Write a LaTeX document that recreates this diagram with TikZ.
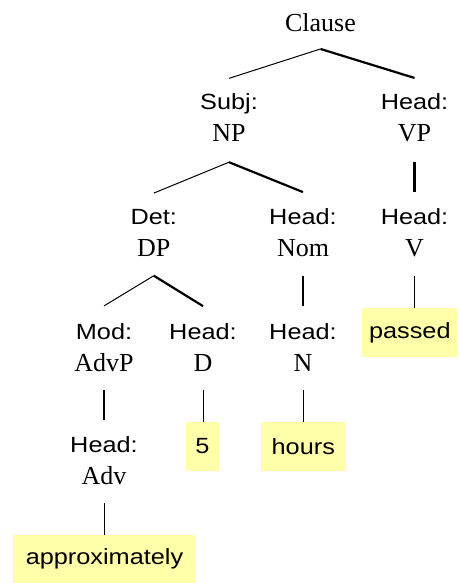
\documentclass[tikz,border=0pt]{standalone}
\usepackage{fontspec}
\usepackage{graphicx}
\setmainfont{Liberation Serif}
\newfontfamily\sansf{Liberation Sans}
\definecolor{boxyellow}{RGB}{255,255,170}
\newcommand\fnl[1]{{\sansf\fontsize{22}{32}\selectfont\scalebox{1.15}[1]{#1}}}
\newcommand\catl[1]{{\rmfamily\fontsize{26}{32}\selectfont #1}}
\tikzset{
  lab/.style={align=center, inner sep=0pt, anchor=south, font=\fontsize{22}{32}\selectfont},
  catnode/.style={inner sep=0pt, font=\rmfamily\fontsize{26}{32}\selectfont},
  wordbox/.style={fill=boxyellow, inner sep=0pt, minimum height=49pt},
  thinl/.style={line width=1pt},
  thickl/.style={line width=2.2pt}
}
\begin{document}
\begin{tikzpicture}[x=1pt,y=-1pt]
\useasboundingbox (0,0) rectangle (458,583);
% nodes
\node[catnode, anchor=base] (clause) at (320.5,31.5) {Clause};
\node[lab] (np) at (229,141.7) {\fnl{Subj:}\\\catl{NP}};
\node[lab] (vp) at (414.5,141.7) {\fnl{Head:}\\\catl{VP}};
\node[lab] (dp) at (153.8,256.7) {\fnl{Det:}\\\catl{DP}};
\node[lab] (nom) at (303,256.7) {\fnl{Head:}\\\catl{Nom}};
\node[lab] (v) at (414.5,256.7) {\fnl{Head:}\\\catl{V}};
\node[lab] (advp) at (104,371.5) {\fnl{Mod:}\\\catl{AdvP}};
\node[lab] (d) at (203,371.5) {\fnl{Head:}\\\catl{D}};
\node[lab] (n) at (303,371.5) {\fnl{Head:}\\\catl{N}};
\node[lab] (adv) at (104,485.3) {\fnl{Head:}\\\catl{Adv}};
\node[wordbox, minimum width=95pt] (passed) at (409.8,332.8) {\fnl{passed}};
\node[wordbox, minimum width=33.3pt] (five) at (202.3,446.2) {\fnl{5}};
\node[wordbox, minimum width=84.7pt] (hours) at (303.3,446.2) {\fnl{hours}};
\node[wordbox, minimum width=182.4pt, minimum height=48pt] (approx) at (104.5,559) {\fnl{approximately}};
% connectors
\draw[thinl] ([yshift=-17pt]clause.south) -- ([yshift=15pt]np.north);
\draw[thickl] ([yshift=-17pt]clause.south) -- ([yshift=15pt]vp.north);
\draw[thinl] ([yshift=-20.5pt]np.south) -- ([yshift=16pt]dp.north);
\draw[thickl] ([yshift=-20.5pt]np.south) -- ([yshift=16pt]nom.north);
\draw[thickl] ([yshift=-20.5pt]vp.south) -- ([yshift=16pt]v.north);
\draw[thinl] ([yshift=-19pt]dp.south) -- ([yshift=17pt]advp.north);
\draw[thickl] ([yshift=-19pt]dp.south) -- ([yshift=17pt]d.north);
\draw[thickl] ([yshift=-19pt]nom.south) -- ([yshift=17pt]n.north);
\draw[thinl] ([yshift=-19pt]v.south) -- (v.south |- passed.north);
\draw[thickl] ([yshift=-18.5pt]advp.south) -- ([yshift=17pt]adv.north);
\draw[thinl] ([yshift=-18.5pt]d.south) -- (d.south |- five.north);
\draw[thinl] ([yshift=-18.5pt]n.south) -- (n.south |- hours.north);
\draw[thinl] ([yshift=-18pt]adv.south) -- (adv.south |- approx.north);
\end{tikzpicture}
\end{document}
